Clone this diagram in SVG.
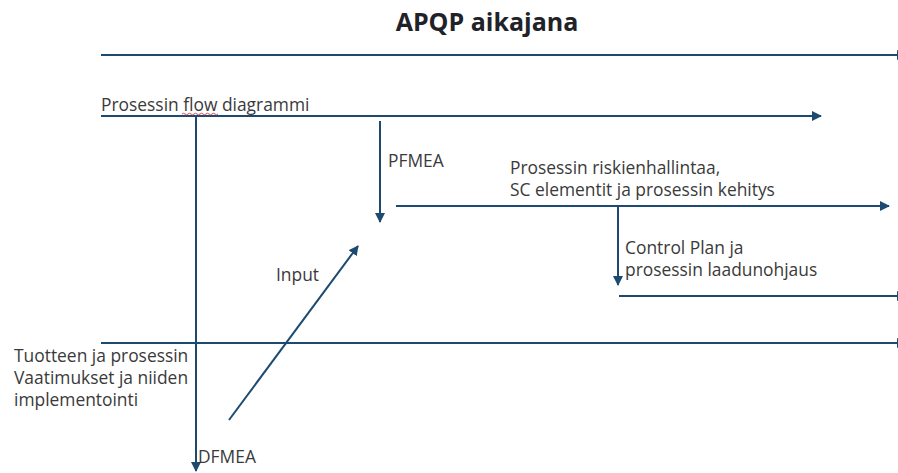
<svg xmlns="http://www.w3.org/2000/svg" width="898" height="473" viewBox="0 0 898 473">
  <style>
    .ln { stroke: #1c4a70; stroke-width: 2; fill: none; }
    .arr { marker-end: url(#ah); }
    .t { font-family: "Open Sans", "Noto Sans", "DejaVu Sans", sans-serif; font-size: 17.4px; fill: #3a3a3a; }
    .title { font-family: "Open Sans", "Noto Sans", "DejaVu Sans", sans-serif; font-size: 25px; font-weight: bold; fill: #1f2329; }
  </style>
  <defs>
    <marker id="ah" viewBox="0 0 10 10" refX="9" refY="5" markerWidth="5" markerHeight="5" orient="auto" markerUnits="strokeWidth">
      <path d="M0,0 L10,5 L0,10 z" fill="#1c4a70"/>
    </marker>
  </defs>
  <rect width="898" height="473" fill="#ffffff"/>

  <text class="title" x="487" y="31" text-anchor="middle">APQP aikajana</text>

  <g id="connectors">
    <line class="ln arr" x1="101" y1="55" x2="906" y2="55"/>
    <line class="ln arr" x1="101" y1="116" x2="821" y2="116"/>
    <line class="ln arr" x1="196" y1="116" x2="196" y2="471"/>
    <line class="ln arr" x1="380" y1="121" x2="380" y2="222"/>
    <line class="ln arr" x1="396" y1="206" x2="889" y2="206"/>
    <line class="ln arr" x1="618" y1="206" x2="618" y2="285"/>
    <line class="ln arr" x1="619" y1="296" x2="906" y2="296"/>
    <line class="ln arr" x1="101" y1="343" x2="906" y2="343"/>
    <line class="ln arr" x1="229" y1="420" x2="358" y2="246"/>
  </g>

  <g id="process-flow">
    <text class="t" x="101" y="111">Prosessin flow diagrammi</text>
    <path d="M182,114 q1.5,-1.5 3,0 t3,0 t3,0 t3,0 t3,0 t3,0 t3,0 t3,0 t3,0 t3,0 t3,0 t3,0" stroke="#e04848" stroke-width="1" fill="none"/>
  </g>
  <g id="pfmea">
    <text class="t" x="388" y="167">PFMEA</text>
  </g>
  <g id="riskienhallinta">
    <text class="t" x="510" y="174">Prosessin riskienhallintaa,</text>
    <text class="t" x="510" y="196">SC elementit ja prosessin kehitys</text>
  </g>
  <g id="control-plan">
    <text class="t" x="625" y="254">Control Plan ja</text>
    <text class="t" x="625" y="276">prosessin laadunohjaus</text>
  </g>
  <g id="vaatimukset">
    <text class="t" x="14" y="362">Tuotteen ja prosessin</text>
    <text class="t" x="14" y="384">Vaatimukset ja niiden</text>
    <text class="t" x="14" y="406">implementointi</text>
  </g>
  <g id="input">
    <text class="t" x="276" y="281">Input</text>
  </g>
  <g id="dfmea">
    <text class="t" x="198" y="463">DFMEA</text>
  </g>
</svg>
